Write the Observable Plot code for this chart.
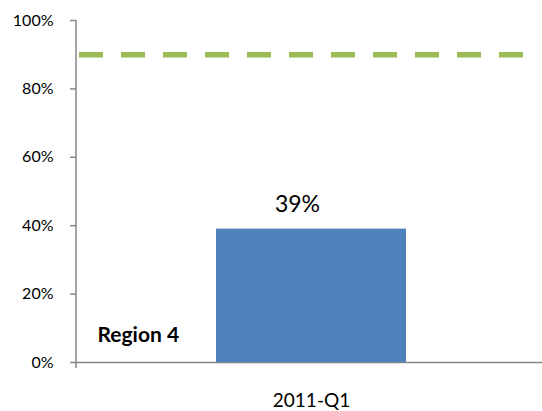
<!DOCTYPE html>
<html>
<head>
<meta charset="utf-8">
<script src="https://cdn.jsdelivr.net/npm/d3@7"></script>
<script src="https://cdn.jsdelivr.net/npm/@observablehq/plot@0.6"></script>
<style>
  html, body { margin: 0; padding: 0; background: #fff; }
  svg { display: block; }
</style>
</head>
<body>
<div id="chart"></div>
<script>
const categories = ["2011-Q1"];
const values = [0.39];
const target = [0.9];
const yTicks = [0, 0.2, 0.4, 0.6, 0.8, 1.0];
const regionLabel = ["Region 4"];

const bars = categories.map((c, i) => ({category: c, value: values[i]}));
const pct = d3.format(".0%");
const axisColor = "#868686";

const plot = Plot.plot({
  width: 542,
  height: 411,
  marginTop: 20,
  marginRight: 0,
  marginBottom: 49,
  marginLeft: 76,
  style: {fontFamily: "Lato, sans-serif", background: "#fff"},
  x: {domain: categories, padding: 0.42, align: 0.507},
  y: {domain: [0, 1]},
  marks: [
    Plot.ruleY([0], {stroke: axisColor, strokeWidth: 1.5}),
    Plot.axisY({
      ticks: yTicks, tickFormat: pct, tickSize: 6, tickPadding: 17,
      fontSize: 16, stroke: axisColor, color: "#000", strokeWidth: 1.5, label: null
    }),
    Plot.axisX({tickSize: 0, tickPadding: 31, fontSize: 19, color: "#000", label: null}),
    Plot.barY(bars, {x: "category", y: "value", fill: "#4F81BD"}),
    Plot.text(bars, {
      x: "category", y: "value", text: d => pct(d.value),
      lineAnchor: "bottom", dy: -17, dx: -14, fontSize: 23, fill: "#000"
    }),
    Plot.ruleY(target, {
      stroke: "#9BBB59", strokeWidth: 5.5, strokeDasharray: "24 18",
      insetLeft: 3, insetRight: 19
    }),
    Plot.text(regionLabel, {
      frameAnchor: "bottom-left", text: d => d, textAnchor: "start",
      lineAnchor: "bottom", dx: 21, dy: -21, fontSize: 21, fontWeight: "bold", fill: "#000"
    })
  ]
});

// vertical value-axis line (plus its short extension below the category axis), positioned via the y scale
const ys = plot.scale("y");
const yTop = ys.apply(1), yBottom = ys.apply(0);
d3.select(plot).append("line")
  .attr("x1", 76).attr("x2", 76)
  .attr("y1", yTop).attr("y2", yBottom + 6)
  .attr("stroke", axisColor).attr("stroke-width", 1.5);

document.getElementById("chart").appendChild(plot);
</script>
</body>
</html>
